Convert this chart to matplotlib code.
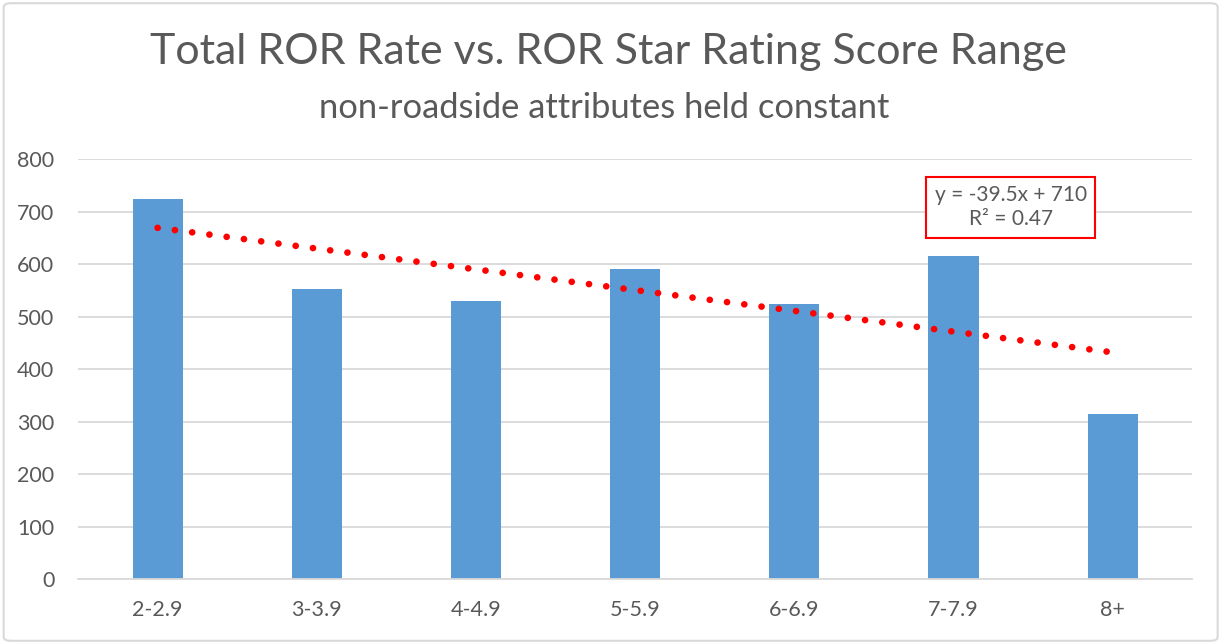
import matplotlib.pyplot as plt
import numpy as np
from matplotlib.patches import FancyBboxPatch

# data
categories = ["2-2.9", "3-3.9", "4-4.9", "5-5.9", "6-6.9", "7-7.9", "8+"]
ror_rate = [724, 553, 530, 590, 524, 616, 315]
y_ticks = [0, 100, 200, 300, 400, 500, 600, 700, 800]

text_col = "#595959"
grid_col = "#d9d9d9"
bar_col = "#5b9bd5"

plt.rcParams["font.family"] = ["Lato", "DejaVu Sans"]

fig = plt.figure(figsize=(12.25, 6.44), dpi=100)
ax = fig.add_axes([0.0637, 0.1009, 0.9096, 0.6522])

x = np.arange(len(categories))
ax.bar(x, ror_rate, width=0.315, color=bar_col, zorder=2)

# linear trendline (Excel style), fit on the bar values
slope, intercept = np.polyfit(x + 1, ror_rate, 1)
trend = slope * (x + 1) + intercept
ax.plot(x, trend, color="red", linewidth=4.8, linestyle=(0, (0.01, 2.6)),
        dash_capstyle="round", zorder=3)

ax.text(0.837, 0.885, "y = -39.5x + 710\nR² = 0.47", transform=ax.transAxes,
        ha="center", va="center", fontsize=15, color=text_col, linespacing=1.25,
        bbox=dict(boxstyle="square,pad=0.4", facecolor="white", edgecolor="red", linewidth=1.5),
        zorder=4)

ax.set_xlim(-0.5, len(categories) - 0.5)
ax.set_ylim(0, 800)
ax.set_yticks(y_ticks)
ax.set_xticks(x)
ax.set_xticklabels(categories)
ax.tick_params(length=0, labelsize=15.5, colors=text_col)
ax.tick_params(axis="x", pad=15)
ax.tick_params(axis="y", pad=17)
ax.grid(axis="y", color=grid_col, linewidth=1.3, zorder=0)
for s in ["top", "right", "left"]:
    ax.spines[s].set_visible(False)
ax.spines["bottom"].set_color(grid_col)
ax.spines["bottom"].set_linewidth(1.3)

fig.text(0.497, 0.919, "Total ROR Rate vs. ROR Star Rating Score Range", ha="center", va="center",
         fontsize=31, color=text_col)
fig.text(0.4935, 0.833, "non-roadside attributes held constant", ha="center", va="center",
         fontsize=24.8, color=text_col)

border = FancyBboxPatch((0.003, 0.005), 0.991, 0.99, boxstyle="round,pad=0,rounding_size=0.006",
                        transform=fig.transFigure, facecolor="none", edgecolor=grid_col, linewidth=1.5)
fig.patches.append(border)

fig.savefig("out.png", dpi=100)
